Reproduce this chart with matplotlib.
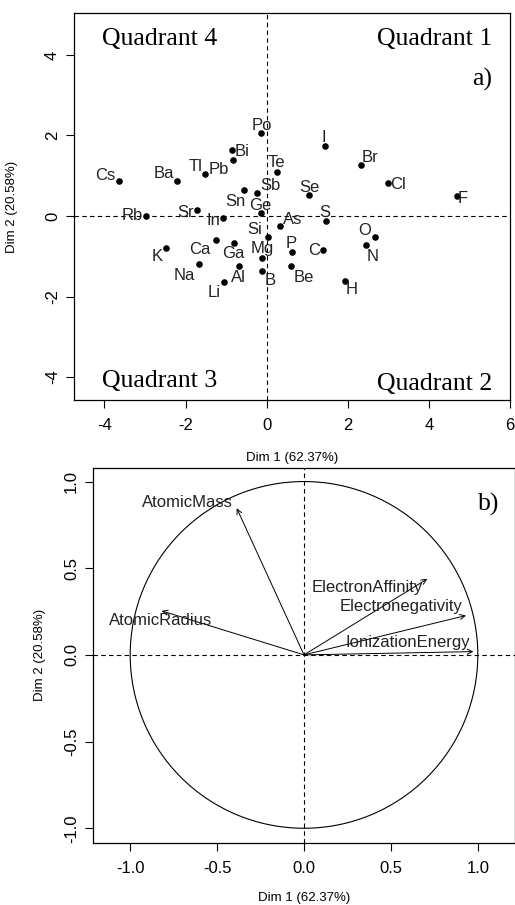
import matplotlib
matplotlib.use("Agg")
import matplotlib.pyplot as plt
from matplotlib.patches import Circle

plt.rcParams['font.family'] = ['Liberation Sans', 'DejaVu Sans']
plt.rcParams['axes.unicode_minus'] = False

# individuals (elements) on the first two PCA dimensions
elements = ["Cs", "Ba", "Tl", "Pb", "Bi", "Po", "Te", "Sb", "Sn", "Ge",
            "Rb", "Sr", "In", "K", "Ca", "Ga", "Na", "Al", "Li", "Si",
            "Mg", "B", "As", "S", "P", "C", "Be", "H", "O", "N",
            "I", "Br", "Cl", "F", "Se"]
dim1 = [-3.63, -2.20, -1.51, -0.83, -0.86, -0.14, 0.25, -0.23, -0.56, -0.14,
        -2.97, -1.71, -1.08, -2.48, -1.25, -0.80, -1.68, -0.68, -1.05, 0.03,
        -0.11, -0.11, 0.33, 1.46, 0.63, 1.40, 0.60, 1.93, 2.67, 2.45,
        1.43, 2.33, 3.00, 4.69, 1.05]
dim2 = [0.86, 0.88, 1.05, 1.40, 1.65, 2.06, 1.10, 0.58, 0.64, 0.08,
        0.00, 0.14, -0.05, -0.79, -0.59, -0.66, -1.20, -1.25, -1.64, -0.53,
        -1.04, -1.36, -0.25, -0.13, -0.89, -0.84, -1.25, -1.61, -0.51, -0.72,
        1.74, 1.27, 0.83, 0.49, 0.52]

# label offsets from each point, in pixels (right, down)
label_offsets = {
    "Cs": (-14, -6), "Ba": (-14, -7), "Tl": (-10, -7), "Pb": (-14, 10),
    "Bi": (10, 2), "Po": (1, -8), "Te": (0, -9), "Sb": (13, -7),
    "Sn": (-9, 11), "Ge": (-1, -7), "Rb": (-14, 0), "Sr": (-12, 2),
    "In": (-9, 3), "K": (-9, 9), "Ca": (-16, 10), "Ga": (-1, 11),
    "Na": (-14, 11), "Al": (-1, 11), "Li": (-10, 10), "Si": (-13, -8),
    "Mg": (0, -9), "B": (8, 10), "As": (13, -7), "S": (-1, -9),
    "P": (-1, -8), "C": (-9, 1), "Be": (13, 11), "H": (7, 9),
    "O": (-10, -6), "N": (7, 12), "I": (-1, -8), "Br": (9, -7),
    "Cl": (10, 2), "F": (6, 2), "Se": (0, -8),
}

# variables (correlation circle)
variables = ["AtomicMass", "AtomicRadius", "ElectronAffinity",
             "Electronegativity", "IonizationEnergy"]
var_dim1 = [-0.387, -0.819, 0.709, 0.932, 0.974]
var_dim2 = [0.846, 0.254, 0.438, 0.227, 0.019]
var_label_offsets = {
    "AtomicMass": (-4, -6, 'right'),
    "AtomicRadius": (-1, 10, 'center'),
    "ElectronAffinity": (-4, 9, 'right'),
    "Electronegativity": (-3, -9, 'right'),
    "IonizationEnergy": (-3, -9, 'right'),
}

W, H = 515, 905
fig = plt.figure(figsize=(W / 100, H / 100), dpi=100)

def px_axes(left, top, right, bottom):
    return fig.add_axes([left / W, 1 - bottom / H, (right - left) / W, (bottom - top) / H])

def style_axes(ax):
    for s in ax.spines.values():
        s.set_linewidth(0.9)
    ax.tick_params(direction='out', length=6, width=0.8, labelsize=12, colors='black')
    ax.tick_params(axis='y', pad=4)
    ax.tick_params(axis='x', pad=7)
    for lab in ax.get_yticklabels():
        lab.set_rotation(90)
        lab.set_va('center')

dash = (0, (4, 3))
serif = dict(family=['Liberation Serif', 'DejaVu Serif'], fontsize=18.5)

# ---- a) individuals factor map
ax1 = px_axes(74, 13, 510, 400)
ax1.scatter(dim1, dim2, s=14, color='black', zorder=3)
for name, x, y in zip(elements, dim1, dim2):
    dx, dy = label_offsets[name]
    ax1.annotate(name, (x, y), xytext=(dx * 0.72, -dy * 0.72), textcoords='offset points',
                 ha='center', va='center', fontsize=12, color='#222222')
ax1.axhline(0, color='black', lw=0.8, ls=dash)
ax1.axvline(0, color='black', lw=0.8, ls=dash)
ax1.set_xlim(-4.75, 6.0)
ax1.set_ylim(-4.57, 5.04)
ax1.set_xticks([-4, -2, 0, 2, 4, 6])
ax1.set_yticks([-4, -2, 0, 2, 4])
ax1.set_xticklabels(['-4', '-2', '0', '2', '4', '6'])
ax1.set_yticklabels(['-4', '-2', '0', '2', '4'])
style_axes(ax1)

fig.text(102 / W, 1 - 45 / H, "Quadrant 4", ha='left', va='baseline', **serif)
fig.text(492 / W, 1 - 45 / H, "Quadrant 1", ha='right', va='baseline', **serif)
fig.text(492 / W, 1 - 86 / H, "a)", ha='right', va='baseline', **serif)
fig.text(102 / W, 1 - 387 / H, "Quadrant 3", ha='left', va='baseline', **serif)
fig.text(492 / W, 1 - 390 / H, "Quadrant 2", ha='right', va='baseline', **serif)
fig.text(292 / W, 1 - 458 / H, "Dim 1 (62.37%)", ha='center', va='center', fontsize=9.5)
fig.text(12 / W, 1 - 207 / H, "Dim 2 (20.58%)", ha='center', va='center', rotation=90, fontsize=9.5)

# ---- b) variables factor map
ax2 = px_axes(93, 468, 515, 843)
ax2.add_patch(Circle((0, 0), 1, fill=False, color='black', lw=0.8))
for name, x, y in zip(variables, var_dim1, var_dim2):
    ax2.annotate('', xy=(x, y), xytext=(0, 0),
                 arrowprops=dict(arrowstyle='->', lw=0.7, color='black',
                                 shrinkA=0, shrinkB=0, mutation_scale=9))
    dx, dy, ha = var_label_offsets[name]
    ax2.annotate(name, (x, y), xytext=(dx * 0.72, -dy * 0.72), textcoords='offset points',
                 ha=ha, va='center', fontsize=12, color='#222222')
ax2.axhline(0, color='black', lw=0.8, ls=dash)
ax2.axvline(0, color='black', lw=0.8, ls=dash)
ax2.set_xlim(-1.214, 1.214)
ax2.set_ylim(-1.085, 1.078)
ax2.set_xticks([-1.0, -0.5, 0.0, 0.5, 1.0])
ax2.set_yticks([-1.0, -0.5, 0.0, 0.5, 1.0])
ax2.set_xticklabels(['-1.0', '-0.5', '0.0', '0.5', '1.0'])
ax2.set_yticklabels(['-1.0', '-0.5', '0.0', '0.5', '1.0'])
style_axes(ax2)

fig.text(499 / W, 1 - 511 / H, "b)", ha='right', va='baseline', **serif)
fig.text(304 / W, 1 - 898 / H, "Dim 1 (62.37%)", ha='center', va='center', fontsize=9.5)
fig.text(40 / W, 1 - 655 / H, "Dim 2 (20.58%)", ha='center', va='center', rotation=90, fontsize=9.5)

fig.savefig("out.png", dpi=100)
